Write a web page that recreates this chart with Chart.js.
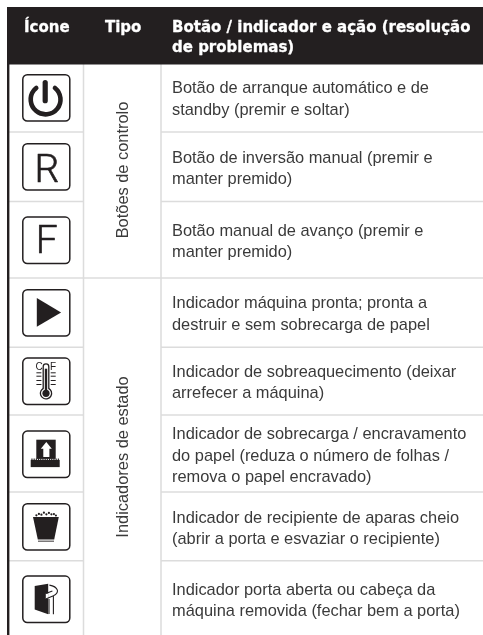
<!DOCTYPE html>
<html>
<head>
<meta charset="utf-8">
<title>Ícones</title>
<script src="https://cdn.jsdelivr.net/npm/chart.js@4"></script>
<style>
  html, body { margin: 0; padding: 0; background: #fff; }
  canvas { display: block; }
</style>
</head>
<body>
<canvas id="tableChart" width="483" height="635"></canvas>
<script>
// table content
const headers = ['Ícone', 'Tipo'];
const headerLines = ['Botão / indicador e ação (resolução', 'de problemas)'];
const groups = ['Botões de controlo', 'Indicadores de estado'];
const icons = ['power', 'R', 'F', 'play', 'thermo', 'paper', 'bin', 'door'];
const rowLines = [
    ['Botão de arranque automático e de', 'standby (premir e soltar)'],
    ['Botão de inversão manual (premir e', 'manter premido)'],
    ['Botão manual de avanço (premir e', 'manter premido)'],
    ['Indicador máquina pronta; pronta a', 'destruir e sem sobrecarga de papel'],
    ['Indicador de sobreaquecimento (deixar', 'arrefecer a máquina)'],
    ['Indicador de sobrecarga / encravamento', 'do papel (reduza o número de folhas /', 'remova o papel encravado)'],
    ['Indicador de recipiente de aparas cheio', '(abrir a porta e esvaziar o recipiente)'],
    ['Indicador porta aberta ou cabeça da', 'máquina removida (fechar bem a porta)']
];

// layout, in canvas pixels (the hidden scales run 0-483 and 0-635)
const colLeft = 9, colIcon = 83.5, colType = 161, colRight = 483;
const rowRulesTwoCols = [132, 201.5, 347.3, 415, 492, 560.7];
const rowRulesFull = [278];
const rowCentres = [104, 173.3, 246.7, 319.2, 387.5, 460.6, 533.3, 605.5];
const iconTops = [74.3, 143.3, 216.7, 289.3, 357.7, 430.7, 503.3, 575.7];
const groupCentres = [170, 457];

const INK = '#231f20';
const TEXT = '#3a3a3a';
const RULE = '#dcdcdc';

function ruleData(x1, x2, y) {
    return [{ x: x1, y: y }, { x: x2, y: y }];
}

function lineSet(data, color, width) {
    return { type: 'line', data: data, borderColor: color, borderWidth: width, pointRadius: 0, fill: false, tension: 0 };
}

const datasets = [];
// header band
datasets.push(lineSet(ruleData(7, colRight, 35.75), INK, 57.5));
// left heavy rule
datasets.push(lineSet([{ x: 8.2, y: 64 }, { x: 8.2, y: 635 }], INK, 2.4));
// verticals
datasets.push(lineSet([{ x: colIcon, y: 64 }, { x: colIcon, y: 635 }], RULE, 1.5));
datasets.push(lineSet([{ x: colType, y: 64 }, { x: colType, y: 635 }], RULE, 1.5));
// horizontals
rowRulesTwoCols.forEach(function(y) {
    datasets.push(lineSet(ruleData(colLeft, colIcon, y), RULE, 1.5));
    datasets.push(lineSet(ruleData(colType, colRight, y), RULE, 1.5));
});
rowRulesFull.forEach(function(y) {
    datasets.push(lineSet(ruleData(colLeft, colRight, y), RULE, 1.5));
});

// icon drawing, local coordinates with the box going 0-48 on both sides
function roundBox(ctx) {
    ctx.strokeStyle = INK;
    ctx.lineWidth = 1.5;
    ctx.beginPath();
    ctx.roundRect(0.4, 0.4, 47, 46.4, 4.5);
    ctx.stroke();
}

// big letter of the R and F buttons
function iconLetter(ctx, letter, baseline) {
    ctx.fillStyle = INK;
    ctx.strokeStyle = INK;
    ctx.lineWidth = 0.6;
    ctx.font = '300 39px Roboto';
    ctx.textAlign = 'center';
    ctx.fillText(letter, 24.4, baseline);
    ctx.strokeText(letter, 24.4, baseline);
}

const iconDrawers = {
    power: function(ctx) {
        ctx.strokeStyle = INK;
        ctx.lineCap = 'round';
        ctx.lineWidth = 4.6;
        ctx.beginPath();
        ctx.arc(23.2, 25.2, 14.9, -Math.PI / 2 + 0.68, -Math.PI / 2 - 0.68);
        ctx.stroke();
        ctx.lineWidth = 5.2;
        ctx.beginPath();
        ctx.moveTo(22.8, 8.2);
        ctx.lineTo(22.8, 26.4);
        ctx.stroke();
    },
    R: function(ctx) {
        iconLetter(ctx, 'R', 38.4);
    },
    F: function(ctx) {
        iconLetter(ctx, 'F', 36.6);
    },
    play: function(ctx) {
        ctx.fillStyle = INK;
        ctx.beginPath();
        ctx.moveTo(14.4, 8.7);
        ctx.lineTo(38.7, 23.1);
        ctx.lineTo(14.4, 37.4);
        ctx.closePath();
        ctx.fill();
    },
    thermo: function(ctx) {
        ctx.strokeStyle = INK;
        ctx.fillStyle = INK;
        ctx.lineWidth = 1.3;
        ctx.beginPath();
        ctx.moveTo(20.8, 31);
        ctx.lineTo(20.8, 9);
        ctx.arc(23.6, 9, 2.8, Math.PI, 0);
        ctx.lineTo(26.4, 31);
        ctx.stroke();
        ctx.beginPath();
        ctx.arc(23.6, 35.6, 5.6, -1.1, Math.PI + 1.1);
        ctx.stroke();
        ctx.beginPath();
        ctx.arc(23.6, 35.6, 3.6, 0, Math.PI * 2);
        ctx.fill();
        ctx.fillRect(22.4, 11, 2.4, 22);
        [14.6, 18, 22.3, 26.3].forEach(function(y) {
            ctx.fillRect(14, y, 5, 1);
            ctx.fillRect(28.3, y, 5, 1);
        });
        ctx.font = '10px "Liberation Sans"';
        ctx.textAlign = 'center';
        ctx.fillText('C', 16.8, 12.4);
        ctx.fillText('F', 30.6, 12.4);
    },
    paper: function(ctx) {
        ctx.fillStyle = INK;
        ctx.fillRect(13.9, 9, 19.4, 19.2);
        ctx.fillRect(8.3, 29.2, 29, 7.2);
        ctx.fillStyle = '#fff';
        ctx.beginPath();
        ctx.moveTo(23.9, 11.3);
        ctx.lineTo(29.4, 18);
        ctx.lineTo(27, 18);
        ctx.lineTo(27, 26.3);
        ctx.lineTo(20.9, 26.3);
        ctx.lineTo(20.9, 18);
        ctx.lineTo(18.4, 18);
        ctx.closePath();
        ctx.fill();
        // serrated top of the tray
        ctx.fillStyle = INK;
        for (let x = 9; x < 37; x += 2.2) {
            ctx.fillRect(x, 27.8, 1.1, 1.6);
        }
    },
    bin: function(ctx) {
        ctx.fillStyle = INK;
        ctx.beginPath();
        ctx.moveTo(10.6, 13.8);
        ctx.lineTo(36.4, 13.8);
        ctx.lineTo(31.8, 36.2);
        ctx.lineTo(15.4, 36.2);
        ctx.closePath();
        ctx.fill();
        ctx.fillRect(15.6, 37.4, 16, 0.9);
        [[14, 12], [16.5, 10.6], [19, 11.4], [21.5, 9.4], [24, 11], [26.5, 9.6], [29, 11], [31.5, 10.8], [33.5, 12.2]].forEach(function(p) {
            ctx.beginPath();
            ctx.arc(p[0], p[1], 1.1, 0, Math.PI * 2);
            ctx.fill();
        });
    },
    door: function(ctx) {
        ctx.fillStyle = INK;
        ctx.beginPath();
        ctx.moveTo(12.3, 10.3);
        ctx.lineTo(25.8, 8);
        ctx.lineTo(25.8, 38.6);
        ctx.lineTo(12.3, 33.8);
        ctx.closePath();
        ctx.fill();
        // notch in the door edge
        ctx.fillStyle = '#fff';
        ctx.fillRect(23.4, 17.8, 2.6, 5.4);
        ctx.strokeStyle = INK;
        ctx.lineWidth = 1.1;
        ctx.beginPath();
        // door frame
        ctx.moveTo(31, 20);
        ctx.lineTo(31, 38.6);
        ctx.moveTo(26.6, 38.2);
        ctx.lineTo(26.6, 23.4);
        // curved arm
        ctx.moveTo(23.4, 17.8);
        ctx.lineTo(30, 15.4);
        ctx.moveTo(23.4, 23.2);
        ctx.lineTo(31, 20);
        ctx.moveTo(27, 9.4);
        ctx.quadraticCurveTo(33.5, 10.4, 35, 14.4);
        ctx.quadraticCurveTo(35.6, 18, 31, 20);
        ctx.stroke();
    }
};

// draws the texts and icons through the chart's scales
const tablePlugin = {
    id: 'tablePlugin',
    afterDatasetsDraw(chart) {
        const ctx = chart.ctx;
        const xs = chart.scales.x;
        const ys = chart.scales.y;

        ctx.save();
        ctx.textBaseline = 'alphabetic';

        // header, the thin stroke makes it as heavy as the original face
        ctx.fillStyle = '#fff';
        ctx.strokeStyle = '#fff';
        ctx.lineWidth = 0.3;
        ctx.lineJoin = 'round';
        ctx.font = 'bold 15px "DejaVu Sans"';
        [[headers[0], 24, 32], [headers[1], 105, 32], [headerLines[0], 172, 32], [headerLines[1], 172, 52]].forEach(function(h) {
            const px = xs.getPixelForValue(h[1]);
            const py = ys.getPixelForValue(h[2]);
            ctx.fillText(h[0], px, py);
            ctx.strokeText(h[0], px, py);
        });

        // row text
        ctx.fillStyle = TEXT;
        ctx.font = '16.4px "Liberation Sans"';
        rowLines.forEach(function(lines, i) {
            lines.forEach(function(line, j) {
                const y = rowCentres[i] + (j - (lines.length - 1) / 2) * 21.5;
                ctx.fillText(line, xs.getPixelForValue(172), ys.getPixelForValue(y));
            });
        });

        // rotated group labels
        groups.forEach(function(label, i) {
            ctx.save();
            ctx.translate(xs.getPixelForValue(128.3), ys.getPixelForValue(groupCentres[i]));
            ctx.rotate(-Math.PI / 2);
            ctx.textAlign = 'center';
            ctx.fillText(label, 0, 0);
            ctx.restore();
        });

        // icons
        icons.forEach(function(name, i) {
            ctx.save();
            ctx.translate(xs.getPixelForValue(22.4), ys.getPixelForValue(iconTops[i]));
            roundBox(ctx);
            iconDrawers[name](ctx);
            ctx.restore();
        });
        ctx.restore();
    }
};

new Chart(document.getElementById('tableChart'), {
    type: 'line',
    data: { datasets: datasets },
    plugins: [tablePlugin],
    options: {
        responsive: false,
        animation: false,
        parsing: false,
        layout: { padding: 0 },
        clip: false,
        scales: {
            x: { type: 'linear', min: 0, max: 483, display: false },
            y: { type: 'linear', min: 0, max: 635, reverse: true, display: false }
        },
        plugins: {
            legend: { display: false },
            tooltip: { enabled: false }
        }
    }
});
</script>
</body>
</html>
